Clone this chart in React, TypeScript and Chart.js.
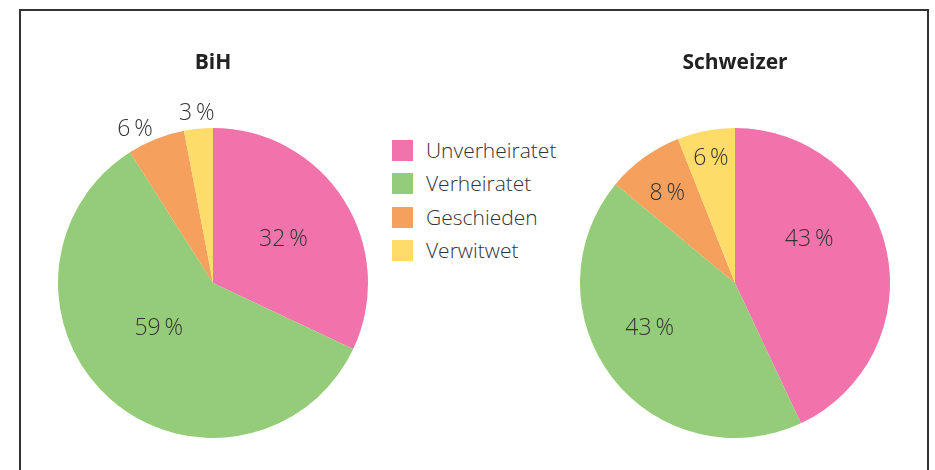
import React, { useEffect, useRef } from "react";
import { Chart, registerables } from "chart.js";

Chart.register(...registerables);

const categories = ["Unverheiratet", "Verheiratet", "Geschieden", "Verwitwet"];
const bihValues = [32, 59, 6, 3];
const chValues = [43, 43, 8, 6];
const chartTitles = ["BiH", "Schweizer"];

const COLORS = ["#F272AB", "#95CC79", "#F6A05D", "#FEDC6A"];
const TEXT = "#333333";
const FONT = "'Open Sans', 'Noto Sans', sans-serif";

// label placement styling: radius fraction and angle shift (deg) per slice
const bihLabelPos = [
  { r: 0.54, da: -0.3 },
  { r: 0.45, da: 9.6 },
  { r: 1.12, da: -5.1 },
  { r: 1.11, da: 0 },
];
const chLabelPos = [
  { r: 0.56, da: -18.7 },
  { r: 0.62, da: 10.4 },
  { r: 0.73, da: -0.8 },
  { r: 0.83, da: 0 },
];

const labelPlugin = {
  id: "pieLabels",
  afterDatasetsDraw(chart: any, _args: any, opts: any) {
    const ctx = chart.ctx;
    const meta = chart.getDatasetMeta(0);
    const data = chart.data.datasets[0].data;
    const pos = opts.pos || [];
    ctx.save();
    ctx.fillStyle = TEXT;
    ctx.textAlign = "center";
    ctx.textBaseline = "middle";
    ctx.font = `300 23px ${FONT}`;
    meta.data.forEach((el: any, i: number) => {
      const p = el.getProps(["x", "y", "startAngle", "endAngle", "outerRadius"], true);
      const cfg = pos[i] || { r: 0.6, da: 0 };
      const mid = (p.startAngle + p.endAngle) / 2 + (cfg.da * Math.PI) / 180;
      const px = p.x + Math.cos(mid) * cfg.r * p.outerRadius;
      const py = p.y + Math.sin(mid) * cfg.r * p.outerRadius + 1.5;
      ctx.fillText(`${data[i]}\u2009%`, px, py);
    });
    // title
    const ca = chart.chartArea;
    ctx.font = `bold 21px ${FONT}`;
    ctx.fillStyle = "#222222";
    ctx.fillText(opts.title || "", (ca.left + ca.right) / 2, ca.top - 65);
    ctx.restore();
  },
};

function PieChart({ values, title, pos, left }: { values: number[]; title: string; pos: any[]; left: number }) {
  const ref = useRef<HTMLCanvasElement>(null);
  useEffect(() => {
    if (!ref.current) return;
    const chart = new Chart(ref.current, {
      type: "pie",
      data: {
        labels: categories,
        datasets: [
          {
            data: values,
            backgroundColor: COLORS,
            borderWidth: 0,
          },
        ],
      },
      options: {
        responsive: false,
        animation: false,
        layout: { padding: { left: 18, right: 18, top: 108, bottom: 32 } },
        plugins: {
          legend: { display: false },
          tooltip: { enabled: false },
          title: { display: false },
          pieLabels: { pos, title },
        } as any,
      },
      plugins: [labelPlugin],
    });
    return () => chart.destroy();
  }, []);
  return (
    <canvas
      ref={ref}
      width={346}
      height={450}
      style={{ position: "absolute", left, top: 20, width: 346, height: 450 }}
    />
  );
}

export default function App() {
  return (
    <div
      style={{
        position: "absolute",
        left: 0,
        top: 0,
        width: 935,
        height: 470,
        background: "#ffffff",
        overflow: "hidden",
        fontFamily: FONT,
      }}
    >
      <div
        style={{
          position: "absolute",
          left: 19,
          top: 9,
          width: 906,
          height: 480,
          borderLeft: "2px solid #333",
          borderTop: "2px solid #333",
          borderRight: "2px solid #333",
        }}
      />
      <PieChart values={bihValues} title={chartTitles[0]} pos={bihLabelPos} left={40} />
      <PieChart values={chValues} title={chartTitles[1]} pos={chLabelPos} left={562} />
      {categories.map((c, i) => (
        <div
          key={c}
          style={{
            position: "absolute",
            left: 392,
            top: 140 + i * 33.3,
            height: 21,
            display: "flex",
            alignItems: "center",
            whiteSpace: "nowrap",
          }}
        >
          <div style={{ width: 21, height: 21, background: COLORS[i] }} />
          <span
            style={{
              marginLeft: 13,
              fontSize: 21,
              fontWeight: 300,
              color: TEXT,
              lineHeight: "21px",
            }}
          >
            {c}
          </span>
        </div>
      ))}
    </div>
  );
}
